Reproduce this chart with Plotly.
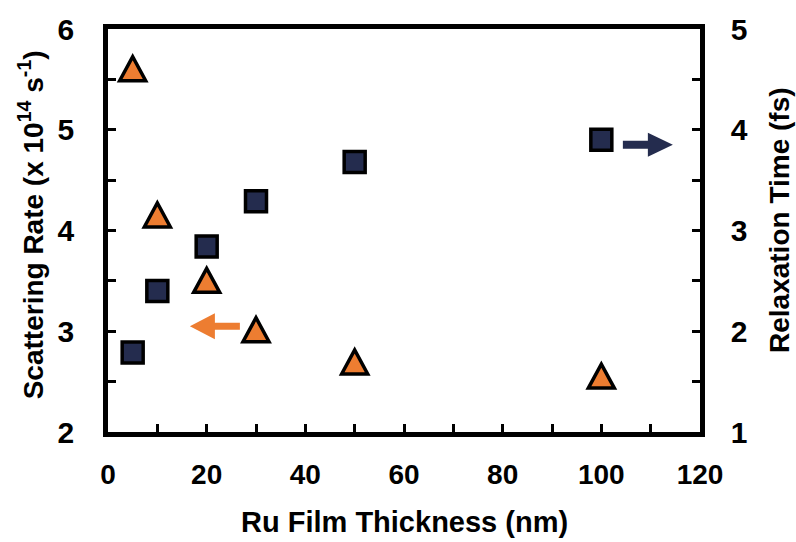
import plotly.graph_objects as go

# Ru film thickness series
thickness_nm = [5, 10, 20, 30, 50, 100]
scattering_rate = [5.61, 4.16, 3.51, 3.02, 2.70, 2.56]   # x 10^14 s^-1 (left axis)
relaxation_time = [1.79, 2.40, 2.84, 3.29, 3.68, 3.90]   # fs (right axis)

ORANGE = "#ED7D31"
NAVY = "#242C4E"
FONT = "Liberation Sans, Arial, sans-serif"

fig = go.Figure()

# hover carrier for the triangle series (triangles are drawn as shapes below)
fig.add_trace(go.Scatter(
    x=thickness_nm, y=scattering_rate, mode="markers", name="Scattering rate",
    marker=dict(size=28, opacity=0), yaxis="y", showlegend=False,
))

fig.add_trace(go.Scatter(
    x=thickness_nm, y=relaxation_time, mode="markers", name="Relaxation time",
    marker=dict(symbol="square", size=21, color=NAVY,
                line=dict(color="black", width=3.5)),
    yaxis="y2", showlegend=False,
))

# isosceles triangle markers anchored at each data point (pixel-sized)
tri_path = "M -13 -12.5 L 13 -12.5 L 0 11.5 Z"
shapes = []
for xv, yv in zip(thickness_nm, scattering_rate):
    shapes.append(dict(
        type="path", xref="x", yref="y",
        xsizemode="pixel", ysizemode="pixel",
        xanchor=xv, yanchor=yv, path=tri_path,
        fillcolor=ORANGE, line=dict(color="black", width=3.5),
        layer="above",
    ))

# block arrows pointing each series to its axis (anchored at the arrow tip)
shapes.append(dict(
    type="path", xref="x", yref="y", xsizemode="pixel", ysizemode="pixel",
    xanchor=16.6, yanchor=3.05,
    path="M 0 0 L 25 13 L 25 3.5 L 50 3.5 L 50 -3.5 L 25 -3.5 L 25 -13 Z",
    fillcolor=ORANGE, line=dict(width=0), layer="above",
))
shapes.append(dict(
    type="path", xref="x", yref="y2", xsizemode="pixel", ysizemode="pixel",
    xanchor=114.5, yanchor=3.85,
    path="M 0 0 L -25 12 L -25 4 L -50 4 L -50 -4 L -25 -4 L -25 -12 Z",
    fillcolor=NAVY, line=dict(width=0), layer="above",
))

tick_style = dict(ticks="inside", ticklen=8, tickwidth=2.5, tickcolor="black")
axis_common = dict(
    showline=True, linecolor="black", linewidth=4.5,
    showgrid=False, zeroline=False, **tick_style,
)

fig.update_layout(
    width=796, height=542,
    margin=dict(l=108, r=96, t=27, b=110),
    plot_bgcolor="white", paper_bgcolor="white",
    xaxis=dict(
        range=[0, 120], tick0=0, dtick=20,
        minor=dict(dtick=10, showgrid=False, **tick_style),
        tickfont=dict(family=FONT, size=28, color="black", weight="bold"),
        mirror=True, ticklabelstandoff=14, **axis_common,
    ),
    yaxis=dict(
        range=[2, 6], tick0=2, dtick=1,
        minor=dict(dtick=0.5, showgrid=False, **tick_style),
        tickfont=dict(family=FONT, size=30, color="black", weight="bold"),
        ticklabelstandoff=23, **axis_common,
    ),
    yaxis2=dict(
        range=[1, 5], tick0=1, dtick=1,
        minor=dict(dtick=0.5, showgrid=False, **tick_style),
        tickfont=dict(family=FONT, size=30, color="black", weight="bold"),
        overlaying="y", side="right", ticklabelstandoff=20, **axis_common,
    ),
    shapes=shapes,
    annotations=[
        dict(text="Ru Film Thickness (nm)", xref="paper", yref="paper",
             x=0.5, y=-0.2235, xanchor="center", yanchor="middle",
             showarrow=False,
             font=dict(family=FONT, size=29, color="black", weight="bold")),
        dict(text="Scattering Rate (x 10<sup>14</sup> s<sup>-1</sup>)",
             xref="paper", yref="paper", x=-0.130, y=0.513,
             xanchor="center", yanchor="middle", textangle=-90,
             showarrow=False,
             font=dict(family=FONT, size=28, color="black", weight="bold")),
        dict(text="Relaxation Time (fs)", xref="paper", yref="paper",
             x=1.1334, y=0.526, xanchor="center", yanchor="middle",
             textangle=-90, showarrow=False,
             font=dict(family=FONT, size=28, color="black", weight="bold")),
    ],
)

fig.write_html("out.html")
